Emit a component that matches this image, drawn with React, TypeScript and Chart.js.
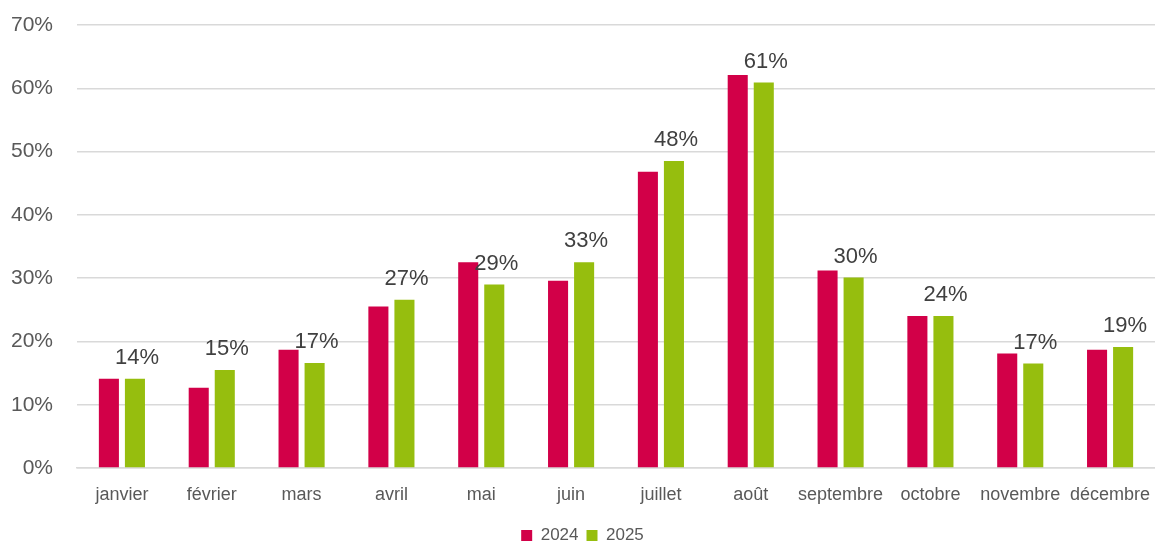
import React, { useEffect, useRef } from "react";
import { Chart, registerables } from "chart.js";

Chart.register(...registerables);

const months = ["janvier", "février", "mars", "avril", "mai", "juin", "juillet", "août", "septembre", "octobre", "novembre", "décembre"];
const values2024 = [14.1, 12.7, 18.7, 25.5, 32.5, 29.6, 46.8, 62.1, 31.2, 24.0, 18.1, 18.7];
const values2025 = [14.1, 15.5, 16.6, 26.6, 29.0, 32.5, 48.5, 60.9, 30.1, 24.0, 16.5, 19.1];
const labels2025 = ["14%", "15%", "17%", "27%", "29%", "33%", "48%", "61%", "30%", "24%", "17%", "19%"];
const yTicks = [0, 10, 20, 30, 40, 50, 60, 70];

const FONT = "'Liberation Sans', Arial, sans-serif";

const labelPlugin = {
  id: "valueLabels",
  afterDatasetsDraw(chart: any) {
    const meta = chart.getDatasetMeta(1);
    const ctx = chart.ctx;
    ctx.save();
    ctx.font = `22px ${FONT}`;
    ctx.fillStyle = "#404040";
    ctx.textAlign = "center";
    ctx.textBaseline = "bottom";
    meta.data.forEach((el: any, i: number) => {
      ctx.fillText(labels2025[i], el.x + 2, el.y - 10);
    });
    ctx.restore();
  },
};

export default function App() {
  const ref = useRef<HTMLCanvasElement>(null);
  useEffect(() => {
    document.body.style.margin = "0";
    const chart = new Chart(ref.current!, {
      type: "bar",
      data: {
        labels: months,
        datasets: [
          { label: "2024", data: values2024, backgroundColor: "#d20048", categoryPercentage: 0.58, barPercentage: 0.77 },
          { label: "2025", data: values2025, backgroundColor: "#96be0e", categoryPercentage: 0.58, barPercentage: 0.77 },
        ],
      },
      options: {
        responsive: false,
        animation: false,
        layout: { padding: { left: 10, top: 25, right: 0, bottom: -11 } },
        plugins: {
          legend: {
            position: "bottom",
            labels: {
              boxWidth: 11,
              boxHeight: 11,
              color: "#595959",
              font: { family: FONT, size: 17 },
              padding: 8,
            },
          },
          tooltip: { enabled: false },
        },
        scales: {
          x: {
            afterFit: (axis: any) => {
              axis.height = 51;
              axis.paddingLeft = 0;
              axis.paddingRight = 0;
            },
            grid: { display: false },
            border: { color: "#d9d9d9", width: 1.5 },
            ticks: { color: "#595959", font: { family: FONT, size: 18 }, padding: 8, maxRotation: 0, autoSkip: false },
          },
          y: {
            min: 0,
            max: 70,
            afterBuildTicks: (axis: any) => {
              axis.ticks = yTicks.map((v) => ({ value: v }));
            },
            afterFit: (axis: any) => {
              axis.width = 67;
              axis.paddingTop = 0;
              axis.paddingBottom = 0;
            },
            grid: { color: "#d9d9d9", lineWidth: 1.5, drawTicks: false },
            border: { display: false },
            ticks: {
              color: "#595959",
              font: { family: FONT, size: 21 },
              padding: 24,
              callback: (v: any) => `${v}%`,
            },
          },
        },
      },
      plugins: [labelPlugin],
    });
    return () => chart.destroy();
  }, []);
  return <canvas ref={ref} width={1155} height={543} style={{ display: "block" }} />;
}
